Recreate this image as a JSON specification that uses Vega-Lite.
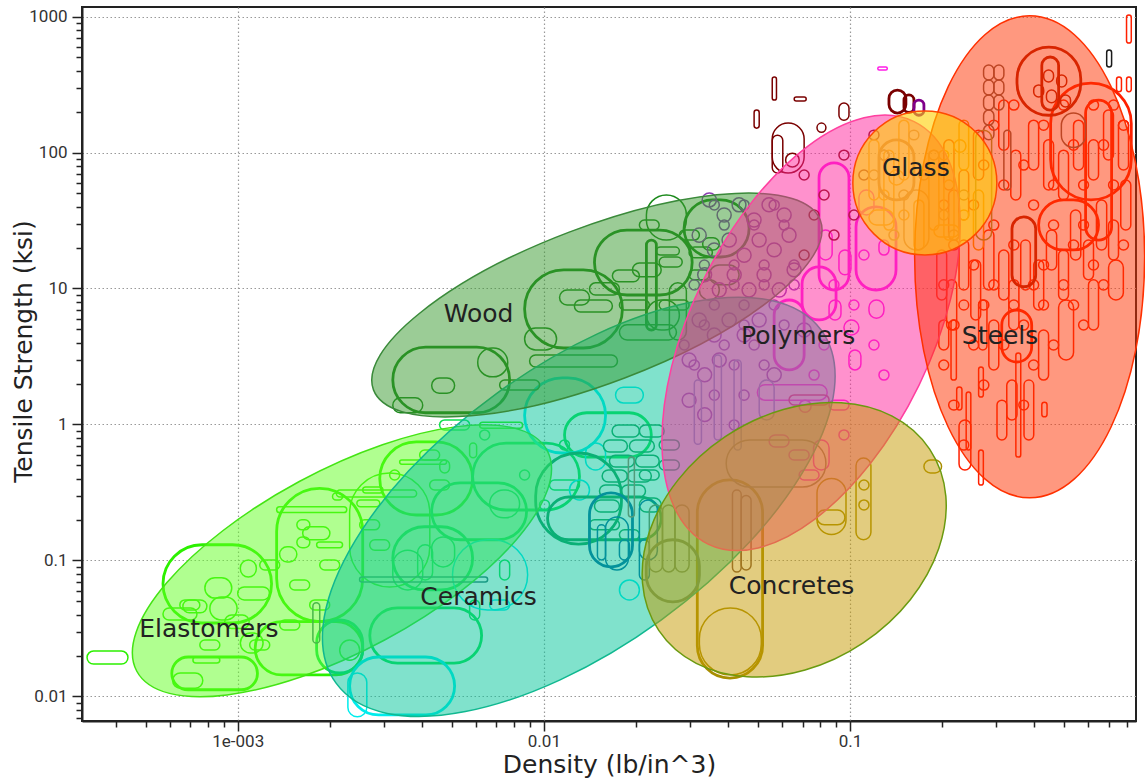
{
"$schema": "https://vega.github.io/schema/vega-lite/v6.json",
"width": 1054, "height": 714,
"autosize": {"type": "none"},
"padding": {"left": 82, "top": 7, "right": 9, "bottom": 63},
"background": "white",
"config": {
  "font": "DejaVu Sans",
  "view": {"stroke": "#222", "strokeWidth": 2},
  "axis": {"domainColor": "#222", "domainWidth": 2, "tickColor": "#222", "tickWidth": 1.5,
           "gridColor": "#999", "gridDash": [1.5, 2.5], "gridWidth": 1.2,
           "labelFont": "Roboto", "labelFontSize": 17, "labelColor": "#333",
           "titleFont": "DejaVu Sans", "titleFontSize": 25, "titleFontWeight": "normal", "titleColor": "#222",
           "labelOverlap": false, "labelFlush": false}
},
"datasets": {
"records": [
{"g":"Elastomers","lv":"grade","dlo":0.000322,"dhi":0.000438,"slo":0.0173,"shi":0.0216},
{"g":"Elastomers","lv":"class","dlo":0.00057,"dhi":0.00129,"slo":0.0347,"shi":0.1305},
{"g":"Elastomers","lv":"class","dlo":0.000609,"dhi":0.00116,"slo":0.0112,"shi":0.0195},
{"g":"Elastomers","lv":"class","dlo":0.00134,"dhi":0.00256,"slo":0.0355,"shi":0.339},
{"g":"Elastomers","lv":"class","dlo":0.00114,"dhi":0.00256,"slo":0.0144,"shi":0.0355},
{"g":"Elastomers","lv":"class","dlo":0.00291,"dhi":0.00585,"slo":0.216,"shi":0.744},
{"g":"Elastomers","lv":"grade","dlo":0.00232,"dhi":0.00424,"slo":0.0639,"shi":0.44},
{"g":"Elastomers","lv":"grade","dlo":0.00134,"dhi":0.00227,"slo":0.225,"shi":0.248},
{"g":"Elastomers","lv":"grade","dlo":0.00338,"dhi":0.00481,"slo":0.511,"shi":0.548},
{"g":"Elastomers","lv":"grade","dlo":0.00102,"dhi":0.00115,"slo":0.0756,"shi":0.101},
{"g":"Elastomers","lv":"grade","dlo":0.001,"dhi":0.00127,"slo":0.0513,"shi":0.0639},
{"g":"Elastomers","lv":"grade","dlo":0.00057,"dhi":0.000736,"slo":0.0365,"shi":0.0448},
{"g":"Elastomers","lv":"grade","dlo":0.000662,"dhi":0.000793,"slo":0.0412,"shi":0.0513},
{"g":"Elastomers","lv":"grade","dlo":0.000811,"dhi":0.000995,"slo":0.0365,"shi":0.0539},
{"g":"Elastomers","lv":"grade","dlo":0.00156,"dhi":0.00172,"slo":0.168,"shi":0.199},
{"g":"Elastomers","lv":"grade","dlo":0.00163,"dhi":0.002,"slo":0.142,"shi":0.177},
{"g":"Elastomers","lv":"grade","dlo":0.00156,"dhi":0.00172,"slo":0.124,"shi":0.149},
{"g":"Elastomers","lv":"grade","dlo":0.00181,"dhi":0.0022,"slo":0.124,"shi":0.137},
{"g":"Elastomers","lv":"grade","dlo":0.00137,"dhi":0.00156,"slo":0.0976,"shi":0.126},
{"g":"Elastomers","lv":"grade","dlo":0.00204,"dhi":0.0022,"slo":0.279,"shi":0.314},
{"g":"Elastomers","lv":"grade","dlo":0.00245,"dhi":0.00291,"slo":0.248,"shi":0.279},
{"g":"Elastomers","lv":"grade","dlo":0.00256,"dhi":0.00298,"slo":0.314,"shi":0.347},
{"g":"Elastomers","lv":"grade","dlo":0.000613,"dhi":0.000769,"slo":0.0115,"shi":0.0149},
{"g":"Elastomers","lv":"grade","dlo":0.000714,"dhi":0.000874,"slo":0.0176,"shi":0.0195},
{"g":"Elastomers","lv":"grade","dlo":0.00102,"dhi":0.00121,"slo":0.0209,"shi":0.0293},
{"g":"Elastomers","lv":"grade","dlo":0.0021,"dhi":0.00384,"slo":0.293,"shi":0.33},
{"g":"Elastomers","lv":"grade","dlo":0.00617,"dhi":0.00852,"slo":0.94,"shi":1.04},
{"g":"Elastomers","lv":"grade","dlo":0.00572,"dhi":0.00603,"slo":0.57,"shi":0.73},
{"g":"Elastomers","lv":"grade","dlo":0.00457,"dhi":0.00492,"slo":0.44,"shi":0.548},
{"g":"Elastomers","lv":"grade","dlo":0.000781,"dhi":0.000956,"slo":0.0529,"shi":0.0745},
{"g":"Elastomers","lv":"grade","dlo":0.000907,"dhi":0.00109,"slo":0.0316,"shi":0.0397},
{"g":"Elastomers","lv":"grade","dlo":0.000647,"dhi":0.000752,"slo":0.0433,"shi":0.0513},
{"g":"Elastomers","lv":"grade","dlo":0.000752,"dhi":0.000874,"slo":0.022,"shi":0.026},
{"g":"Elastomers","lv":"grade","dlo":0.001094,"dhi":0.001272,"slo":0.022,"shi":0.026},
{"g":"Elastomers","lv":"grade","dlo":0.00118,"dhi":0.001371,"slo":0.0851,"shi":0.101},
{"g":"Elastomers","lv":"grade","dlo":0.001478,"dhi":0.001718,"slo":0.0607,"shi":0.0719},
{"g":"Elastomers","lv":"grade","dlo":0.001853,"dhi":0.002153,"slo":0.0851,"shi":0.101},
{"g":"Elastomers","lv":"grade","dlo":0.001718,"dhi":0.001997,"slo":0.0433,"shi":0.0513},
{"g":"Elastomers","lv":"grade","dlo":0.002502,"dhi":0.002908,"slo":0.168,"shi":0.199},
{"g":"Elastomers","lv":"grade","dlo":0.002698,"dhi":0.003135,"slo":0.119,"shi":0.142},
{"g":"Elastomers","lv":"grade","dlo":0.003135,"dhi":0.00338,"slo":0.391,"shi":0.463},
{"g":"Elastomers","lv":"grade","dlo":0.003928,"dhi":0.004565,"slo":0.548,"shi":0.649},
{"g":"Elastomers","lv":"grade","dlo":0.004235,"dhi":0.004921,"slo":0.33,"shi":0.391},
{"g":"Elastomers","lv":"grade","dlo":0.002153,"dhi":0.002502,"slo":0.0185,"shi":0.026},
{"g":"Elastomers","lv":"grade","dlo":0.001371,"dhi":0.001594,"slo":0.0308,"shi":0.0365},
{"g":"Ceramics","lv":"class","dlo":0.0027,"dhi":0.00626,"slo":0.0176,"shi":0.0448},
{"g":"Ceramics","lv":"class","dlo":0.00321,"dhi":0.00585,"slo":0.0607,"shi":0.177},
{"g":"Ceramics","lv":"class","dlo":0.0043,"dhi":0.00878,"slo":0.142,"shi":0.372},
{"g":"Ceramics","lv":"class","dlo":0.00181,"dhi":0.00256,"slo":0.0149,"shi":0.0365},
{"g":"Ceramics","lv":"class","dlo":0.01168,"dhi":0.02243,"slo":0.576,"shi":1.22},
{"g":"Ceramics","lv":"class","dlo":0.00585,"dhi":0.01307,"slo":0.235,"shi":0.73},
{"g":"Ceramics","lv":"grade","dlo":0.0043,"dhi":0.00511,"slo":0.0897,"shi":0.149},
{"g":"Ceramics","lv":"grade","dlo":0.00387,"dhi":0.00433,"slo":0.0719,"shi":0.1305},
{"g":"Ceramics","lv":"grade","dlo":0.00665,"dhi":0.00833,"slo":0.206,"shi":0.33},
{"g":"Ceramics","lv":"grade","dlo":0.00321,"dhi":0.00402,"slo":0.0607,"shi":0.119},
{"g":"Ceramics","lv":"grade","dlo":0.00572,"dhi":0.00617,"slo":0.0365,"shi":0.0513},
{"g":"Ceramics","lv":"grade","dlo":0.00717,"dhi":0.00773,"slo":0.0719,"shi":0.101},
{"g":"Ceramics","lv":"grade","dlo":0.00833,"dhi":0.00898,"slo":0.391,"shi":0.463},
{"g":"Ceramics","lv":"grade","dlo":0.00968,"dhi":0.01043,"slo":0.235,"shi":0.279},
{"g":"Ceramics","lv":"grade","dlo":0.01125,"dhi":0.01212,"slo":0.649,"shi":0.77},
{"g":"Ceramics","lv":"grade","dlo":0.00617,"dhi":0.00665,"slo":0.77,"shi":0.912},
{"g":"Ceramics","lv":"grade","dlo":0.004565,"dhi":0.00572,"slo":0.912,"shi":1.08},
{"g":"Ceramics","lv":"grade","dlo":0.01043,"dhi":0.01307,"slo":0.33,"shi":0.391},
{"g":"Ceramics cyan","lv":"class","dlo":0.00232,"dhi":0.00511,"slo":0.00731,"shi":0.0195},
{"g":"Ceramics cyan","lv":"grade","dlo":0.00229,"dhi":0.00264,"slo":0.00708,"shi":0.0149},
{"g":"Ceramics cyan","lv":"class","dlo":0.00865,"dhi":0.0159,"slo":0.617,"shi":2.2},
{"g":"Ceramics cyan","lv":"grade","dlo":0.01368,"dhi":0.0159,"slo":0.463,"shi":0.73},
{"g":"Ceramics cyan","lv":"grade","dlo":0.01714,"dhi":0.02113,"slo":1.44,"shi":1.88},
{"g":"Ceramics cyan","lv":"grade","dlo":0.00503,"dhi":0.00885,"slo":0.0433,"shi":0.142},
{"g":"Ceramics cyan","lv":"grade","dlo":0.01212,"dhi":0.01409,"slo":0.279,"shi":0.391},
{"g":"Ceramics cyan","lv":"grade","dlo":0.00665,"dhi":0.00773,"slo":0.0433,"shi":0.0513},
{"g":"Ceramics cyan","lv":"grade","dlo":0.01765,"dhi":0.02051,"slo":0.0513,"shi":0.0719},
{"g":"Ceramics dark","lv":"class","dlo":0.0094,"dhi":0.01792,"slo":0.132,"shi":0.617},
{"g":"Ceramics dark","lv":"class","dlo":0.01028,"dhi":0.02416,"slo":0.142,"shi":0.293},
{"g":"Ceramics dark","lv":"grade","dlo":0.01565,"dhi":0.01874,"slo":0.627,"shi":0.77},
{"g":"Ceramics dark","lv":"grade","dlo":0.01903,"dhi":0.02295,"slo":0.627,"shi":0.77},
{"g":"Ceramics dark","lv":"grade","dlo":0.01637,"dhi":0.01975,"slo":0.487,"shi":0.595},
{"g":"Ceramics dark","lv":"grade","dlo":0.01992,"dhi":0.0238,"slo":0.487,"shi":0.595},
{"g":"Ceramics dark","lv":"grade","dlo":0.0155,"dhi":0.01874,"slo":0.377,"shi":0.463},
{"g":"Ceramics dark","lv":"grade","dlo":0.01874,"dhi":0.02244,"slo":0.377,"shi":0.463},
{"g":"Ceramics dark","lv":"grade","dlo":0.01519,"dhi":0.01792,"slo":0.293,"shi":0.359},
{"g":"Ceramics dark","lv":"grade","dlo":0.01792,"dhi":0.02147,"slo":0.293,"shi":0.359},
{"g":"Ceramics dark","lv":"grade","dlo":0.0167,"dhi":0.02051,"slo":0.81,"shi":0.99},
{"g":"Ceramics dark","lv":"grade","dlo":0.02051,"dhi":0.0247,"slo":0.81,"shi":0.99},
{"g":"Ceramics dark","lv":"grade","dlo":0.01463,"dhi":0.01765,"slo":0.227,"shi":0.279},
{"g":"Ceramics dark","lv":"grade","dlo":0.02051,"dhi":0.02416,"slo":0.227,"shi":0.288},
{"g":"Ceramics dark","lv":"grade","dlo":0.02051,"dhi":0.0238,"slo":0.391,"shi":0.463},
{"g":"Ceramics dark","lv":"grade","dlo":0.0238,"dhi":0.0277,"slo":0.463,"shi":0.548},
{"g":"Ceramics dark","lv":"grade","dlo":0.0238,"dhi":0.0277,"slo":0.649,"shi":0.77},
{"g":"Ceramics dark","lv":"grade","dlo":0.01409,"dhi":0.01765,"slo":0.168,"shi":0.199},
{"g":"Ceramics dark","lv":"grade","dlo":0.01765,"dhi":0.02051,"slo":0.142,"shi":0.168},
{"g":"Ceramics blue","lv":"class","dlo":0.01409,"dhi":0.01947,"slo":0.0897,"shi":0.314},
{"g":"Ceramics blue","lv":"grade","dlo":0.0159,"dhi":0.01888,"slo":0.0851,"shi":0.209},
{"g":"Ceramics blue","lv":"grade","dlo":0.02051,"dhi":0.02347,"slo":0.101,"shi":0.279},
{"g":"Ceramics blue","lv":"grade","dlo":0.01496,"dhi":0.0159,"slo":0.101,"shi":0.183},
{"g":"Ceramics blue","lv":"grade","dlo":0.01765,"dhi":0.01903,"slo":0.101,"shi":0.142},
{"g":"Ceramics blue","lv":"grade","dlo":0.02051,"dhi":0.0221,"slo":0.0719,"shi":0.142},
{"g":"Ceramics grey","lv":"grade","dlo":0.0025,"dhi":0.00655,"slo":0.0695,"shi":0.0756},
{"g":"Ceramics grey","lv":"grade","dlo":0.00176,"dhi":0.001853,"slo":0.0247,"shi":0.0488},
{"g":"Ceramics brown","lv":"grade","dlo":0.01888,"dhi":0.01975,"slo":0.209,"shi":0.576},
{"g":"Wood","lv":"class","dlo":0.00321,"dhi":0.00773,"slo":1.22,"shi":3.71},
{"g":"Wood","lv":"grade","dlo":0.00608,"dhi":0.00762,"slo":2.24,"shi":3.65},
{"g":"Wood","lv":"grade","dlo":0.0043,"dhi":0.00511,"slo":1.7,"shi":2.2},
{"g":"Wood","lv":"grade","dlo":0.00321,"dhi":0.00402,"slo":1.22,"shi":1.57},
{"g":"Wood","lv":"class","dlo":0.00865,"dhi":0.01805,"slo":3.65,"shi":13.7},
{"g":"Wood","lv":"grade","dlo":0.00865,"dhi":0.011,"slo":3.53,"shi":5.12},
{"g":"Wood","lv":"grade","dlo":0.00898,"dhi":0.01739,"slo":2.65,"shi":3.24},
{"g":"Wood","lv":"class","dlo":0.01463,"dhi":0.0305,"slo":8.96,"shi":26.9},
{"g":"Wood","lv":"grade","dlo":0.02162,"dhi":0.0292,"slo":22.7,"shi":48.7},
{"g":"Wood","lv":"class","dlo":0.0287,"dhi":0.0468,"slo":17.05,"shi":44.8},
{"g":"Wood","lv":"grade","dlo":0.01125,"dhi":0.01409,"slo":7.56,"shi":9.75},
{"g":"Wood","lv":"grade","dlo":0.01258,"dhi":0.01674,"slo":6.72,"shi":8.23},
{"g":"Wood","lv":"grade","dlo":0.01409,"dhi":0.01765,"slo":8.96,"shi":11.0},
{"g":"Wood","lv":"grade","dlo":0.01674,"dhi":0.02051,"slo":11.2,"shi":13.7},
{"g":"Wood","lv":"grade","dlo":0.01947,"dhi":0.02416,"slo":12.2,"shi":15.4},
{"g":"Wood","lv":"grade","dlo":0.0233,"dhi":0.0277,"slo":17.6,"shi":20.2},
{"g":"Wood","lv":"grade","dlo":0.0238,"dhi":0.0283,"slo":14.4,"shi":17.05},
{"g":"Wood","lv":"grade","dlo":0.0298,"dhi":0.0355,"slo":16.8,"shi":20.2},
{"g":"Wood","lv":"grade","dlo":0.033,"dhi":0.0374,"slo":19.2,"shi":23.6},
{"g":"Wood","lv":"grade","dlo":0.0257,"dhi":0.0292,"slo":4.18,"shi":11.0},
{"g":"Wood","lv":"grade","dlo":0.01765,"dhi":0.0271,"slo":4.18,"shi":5.42},
{"g":"Wood","lv":"grade","dlo":0.02162,"dhi":0.0277,"slo":4.95,"shi":8.23},
{"g":"Wood","lv":"class","dlo":0.02162,"dhi":0.0233,"slo":4.95,"shi":22.7},
{"g":"Wood","lv":"grade","dlo":0.0347,"dhi":0.0434,"slo":10.66,"shi":14.9},
{"g":"Wood","lv":"grade","dlo":0.02051,"dhi":0.0238,"slo":26.9,"shi":31.9},
{"g":"Wood","lv":"grade","dlo":0.0298,"dhi":0.0347,"slo":11.6,"shi":13.7},
{"g":"Wood","lv":"grade","dlo":0.0277,"dhi":0.0322,"slo":22.7,"shi":26.9},
{"g":"Wood","lv":"grade","dlo":0.01765,"dhi":0.0221,"slo":6.95,"shi":8.23},
{"g":"Wood","lv":"grade","dlo":0.0238,"dhi":0.0298,"slo":6.95,"shi":8.23},
{"g":"Wood","lv":"grade","dlo":0.0322,"dhi":0.0374,"slo":8.23,"shi":11.6},
{"g":"Wood","lv":"grade","dlo":0.00717,"dhi":0.00968,"slo":1.79,"shi":2.12},
{"g":"Polymers","lv":"grade","dlo":0.0329,"dhi":0.0366,"slo":39.8,"shi":50.4},
{"g":"Polymers","lv":"grade","dlo":0.0368,"dhi":0.0409,"slo":30.8,"shi":39.1},
{"g":"Polymers","lv":"grade","dlo":0.0412,"dhi":0.0457,"slo":36.6,"shi":46.4},
{"g":"Polymers","lv":"grade","dlo":0.0461,"dhi":0.0512,"slo":28.3,"shi":35.9},
{"g":"Polymers","lv":"grade","dlo":0.0516,"dhi":0.0573,"slo":36.6,"shi":46.4},
{"g":"Polymers","lv":"grade","dlo":0.0578,"dhi":0.0642,"slo":30.8,"shi":39.1},
{"g":"Polymers","lv":"grade","dlo":0.0305,"dhi":0.0339,"slo":21.9,"shi":27.8},
{"g":"Polymers","lv":"grade","dlo":0.0342,"dhi":0.0379,"slo":17.1,"shi":21.6},
{"g":"Polymers","lv":"grade","dlo":0.0382,"dhi":0.0425,"slo":20.2,"shi":25.6},
{"g":"Polymers","lv":"grade","dlo":0.0428,"dhi":0.0475,"slo":15.6,"shi":19.8},
{"g":"Polymers","lv":"grade","dlo":0.0479,"dhi":0.0532,"slo":20.2,"shi":25.6},
{"g":"Polymers","lv":"grade","dlo":0.0536,"dhi":0.0596,"slo":17.1,"shi":21.6},
{"g":"Polymers","lv":"grade","dlo":0.06,"dhi":0.0666,"slo":21.9,"shi":27.8},
{"g":"Polymers","lv":"grade","dlo":0.0318,"dhi":0.0353,"slo":11.2,"shi":14.2},
{"g":"Polymers","lv":"grade","dlo":0.0355,"dhi":0.0394,"slo":8.66,"shi":11.0},
{"g":"Polymers","lv":"grade","dlo":0.0397,"dhi":0.0441,"slo":11.2,"shi":14.2},
{"g":"Polymers","lv":"grade","dlo":0.0444,"dhi":0.0493,"slo":8.66,"shi":11.0},
{"g":"Polymers","lv":"grade","dlo":0.0497,"dhi":0.0552,"slo":11.2,"shi":14.2},
{"g":"Polymers","lv":"grade","dlo":0.0557,"dhi":0.0619,"slo":8.66,"shi":11.0},
{"g":"Polymers","lv":"grade","dlo":0.0623,"dhi":0.0692,"slo":12.2,"shi":15.4},
{"g":"Polymers","lv":"grade","dlo":0.0305,"dhi":0.0339,"slo":5.21,"shi":6.61},
{"g":"Polymers","lv":"grade","dlo":0.0342,"dhi":0.0379,"slo":4.04,"shi":5.12},
{"g":"Polymers","lv":"grade","dlo":0.0382,"dhi":0.0425,"slo":5.21,"shi":6.61},
{"g":"Polymers","lv":"grade","dlo":0.0428,"dhi":0.0475,"slo":4.04,"shi":5.12},
{"g":"Polymers","lv":"grade","dlo":0.0479,"dhi":0.0532,"slo":5.21,"shi":6.61},
{"g":"Polymers","lv":"grade","dlo":0.0283,"dhi":0.0314,"slo":2.65,"shi":3.36},
{"g":"Polymers","lv":"grade","dlo":0.0318,"dhi":0.0353,"slo":2.06,"shi":2.61},
{"g":"Polymers","lv":"grade","dlo":0.0355,"dhi":0.0394,"slo":2.65,"shi":3.36},
{"g":"Polymers","lv":"grade","dlo":0.0283,"dhi":0.0314,"slo":1.34,"shi":1.7},
{"g":"Polymers","lv":"grade","dlo":0.0318,"dhi":0.0353,"slo":1.05,"shi":1.33},
{"g":"Polymers","lv":"grade","dlo":0.0536,"dhi":0.0596,"slo":2.06,"shi":2.61},
{"g":"Polymers","lv":"grade","dlo":0.0672,"dhi":0.0746,"slo":4.4,"shi":5.57},
{"g":"Polymers","lv":"grade","dlo":0.0347,"dhi":0.0374,"slo":37.8,"shi":44.8},
{"g":"Polymers","lv":"grade","dlo":0.0434,"dhi":0.0468,"slo":37.8,"shi":44.8},
{"g":"Polymers","lv":"grade","dlo":0.0544,"dhi":0.0587,"slo":37.8,"shi":44.8},
{"g":"Polymers","lv":"grade","dlo":0.0322,"dhi":0.0347,"slo":13.7,"shi":16.2},
{"g":"Polymers","lv":"grade","dlo":0.0403,"dhi":0.0434,"slo":13.7,"shi":16.2},
{"g":"Polymers","lv":"grade","dlo":0.0505,"dhi":0.0544,"slo":13.7,"shi":16.2},
{"g":"Polymers","lv":"grade","dlo":0.0632,"dhi":0.0682,"slo":13.7,"shi":16.2},
{"g":"Polymers","lv":"grade","dlo":0.0347,"dhi":0.0374,"slo":6.95,"shi":8.23},
{"g":"Polymers","lv":"grade","dlo":0.0434,"dhi":0.0468,"slo":6.95,"shi":8.23},
{"g":"Polymers","lv":"grade","dlo":0.0544,"dhi":0.0587,"slo":6.95,"shi":8.23},
{"g":"Polymers","lv":"grade","dlo":0.0277,"dhi":0.0298,"slo":3.53,"shi":4.18},
{"g":"Polymers","lv":"grade","dlo":0.0374,"dhi":0.0403,"slo":3.53,"shi":4.18},
{"g":"Polymers","lv":"grade","dlo":0.0468,"dhi":0.0505,"slo":3.53,"shi":4.18},
{"g":"Polymers","lv":"grade","dlo":0.0347,"dhi":0.0374,"slo":1.51,"shi":1.79},
{"g":"Polymers","lv":"grade","dlo":0.0434,"dhi":0.0468,"slo":1.51,"shi":1.79},
{"g":"Polymers","lv":"grade","dlo":0.0403,"dhi":0.0434,"slo":0.912,"shi":1.08},
{"g":"Polymers","lv":"grade","dlo":0.0374,"dhi":0.0403,"slo":26.9,"shi":31.9},
{"g":"Polymers","lv":"grade","dlo":0.0468,"dhi":0.0505,"slo":26.9,"shi":31.9},
{"g":"Polymers","lv":"grade","dlo":0.0587,"dhi":0.0632,"slo":26.9,"shi":31.9},
{"g":"Polymers","lv":"grade","dlo":0.0298,"dhi":0.0322,"slo":9.75,"shi":11.6},
{"g":"Polymers","lv":"grade","dlo":0.0403,"dhi":0.0434,"slo":9.75,"shi":11.6},
{"g":"Polymers","lv":"grade","dlo":0.0505,"dhi":0.0544,"slo":9.75,"shi":11.6},
{"g":"Polymers","lv":"grade","dlo":0.0632,"dhi":0.0682,"slo":9.75,"shi":11.6},
{"g":"Polymers","lv":"grade","dlo":0.0322,"dhi":0.0347,"slo":4.95,"shi":5.87},
{"g":"Polymers","lv":"grade","dlo":0.0434,"dhi":0.0468,"slo":4.95,"shi":5.87},
{"g":"Polymers","lv":"grade","dlo":0.0587,"dhi":0.0632,"slo":4.95,"shi":5.87},
{"g":"Polymers","lv":"grade","dlo":0.0298,"dhi":0.0322,"slo":2.52,"shi":2.98},
{"g":"Polymers","lv":"grade","dlo":0.0403,"dhi":0.0434,"slo":2.52,"shi":2.98},
{"g":"Polymers","lv":"grade","dlo":0.0505,"dhi":0.0544,"slo":2.52,"shi":2.98},
{"g":"Polymers magenta","lv":"class","dlo":0.0792,"dhi":0.0992,"slo":9.75,"shi":83.8},
{"g":"Polymers magenta","lv":"class","dlo":0.1046,"dhi":0.1413,"slo":9.75,"shi":39.8},
{"g":"Polymers magenta","lv":"class","dlo":0.0697,"dhi":0.09,"slo":5.87,"shi":14.4},
{"g":"Polymers magenta","lv":"class","dlo":0.0565,"dhi":0.0708,"slo":2.52,"shi":8.23},
{"g":"Polymers magenta","lv":"grade","dlo":0.0792,"dhi":0.0874,"slo":16.2,"shi":26.9},
{"g":"Polymers magenta","lv":"grade","dlo":0.092,"dhi":0.1007,"slo":12.6,"shi":19.2},
{"g":"Polymers magenta","lv":"grade","dlo":0.1069,"dhi":0.1197,"slo":34.7,"shi":53},
{"g":"Polymers magenta","lv":"grade","dlo":0.0854,"dhi":0.0934,"slo":5.87,"shi":8.23},
{"g":"Polymers magenta","lv":"grade","dlo":0.0955,"dhi":0.1069,"slo":4.55,"shi":5.87},
{"g":"Polymers magenta","lv":"grade","dlo":0.1153,"dhi":0.129,"slo":6.04,"shi":8.23},
{"g":"Polymers magenta","lv":"grade","dlo":0.0992,"dhi":0.1085,"slo":2.52,"shi":3.53},
{"g":"Polymers magenta","lv":"grade","dlo":0.1243,"dhi":0.134,"slo":17.6,"shi":22.7},
{"g":"Polymers magenta","lv":"grade","dlo":0.0682,"dhi":0.0746,"slo":1.23,"shi":1.51},
{"g":"Polymers magenta","lv":"grade","dlo":0.0544,"dhi":0.0632,"slo":0.683,"shi":0.837},
{"g":"Polymers magenta","lv":"grade","dlo":0.0682,"dhi":0.0792,"slo":0.391,"shi":0.463},
{"g":"Polymers magenta","lv":"grade","dlo":0.1232,"dhi":0.1323,"slo":405,"shi":425},
{"g":"Polymers magenta","lv":"grade","dlo":0.076,"dhi":0.0854,"slo":0.463,"shi":0.77},
{"g":"Polymers magenta","lv":"grade","dlo":0.0498,"dhi":0.0842,"slo":1.51,"shi":1.96},
{"g":"Polymers magenta","lv":"grade","dlo":0.0854,"dhi":0.092,"slo":9.75,"shi":11.6},
{"g":"Polymers magenta","lv":"grade","dlo":0.0992,"dhi":0.1069,"slo":6.95,"shi":8.23},
{"g":"Polymers magenta","lv":"grade","dlo":0.1069,"dhi":0.1153,"slo":16.2,"shi":19.2},
{"g":"Polymers magenta","lv":"grade","dlo":0.0735,"dhi":0.0792,"slo":2.12,"shi":2.52},
{"g":"Polymers magenta","lv":"grade","dlo":0.0854,"dhi":0.0992,"slo":1.28,"shi":1.51},
{"g":"Polymers magenta","lv":"grade","dlo":0.092,"dhi":0.0992,"slo":0.77,"shi":0.912},
{"g":"Polymers magenta","lv":"grade","dlo":0.0632,"dhi":0.0735,"slo":0.548,"shi":0.649},
{"g":"Polymers magenta","lv":"grade","dlo":0.1153,"dhi":0.1243,"slo":3.53,"shi":4.18},
{"g":"Polymers magenta","lv":"grade","dlo":0.1243,"dhi":0.134,"slo":2.12,"shi":2.52},
{"g":"Polymers magenta","lv":"grade","dlo":0.0792,"dhi":0.0854,"slo":3.53,"shi":4.18},
{"g":"Polymers maroon","lv":"grade","dlo":0.0557,"dhi":0.0575,"slo":243,"shi":359},
{"g":"Polymers maroon","lv":"grade","dlo":0.0657,"dhi":0.0719,"slo":239,"shi":256},
{"g":"Polymers maroon","lv":"grade","dlo":0.0486,"dhi":0.0505,"slo":151,"shi":205},
{"g":"Polymers maroon","lv":"grade","dlo":0.0557,"dhi":0.0708,"slo":70.6,"shi":164.5},
{"g":"Polymers maroon","lv":"grade","dlo":0.0557,"dhi":0.0603,"slo":70.6,"shi":134},
{"g":"Polymers maroon","lv":"grade","dlo":0.078,"dhi":0.0834,"slo":141,"shi":164.5},
{"g":"Polymers maroon","lv":"class","dlo":0.134,"dhi":0.1522,"slo":195,"shi":288},
{"g":"Polymers maroon","lv":"grade","dlo":0.0616,"dhi":0.0682,"slo":78.2,"shi":98.9},
{"g":"Polymers maroon","lv":"grade","dlo":0.092,"dhi":0.0992,"slo":173,"shi":231},
{"g":"Polymers maroon","lv":"class","dlo":0.15,"dhi":0.1617,"slo":197,"shi":265},
{"g":"Polymers maroon","lv":"grade","dlo":0.0682,"dhi":0.0735,"slo":62.8,"shi":74.3},
{"g":"Polymers maroon","lv":"grade","dlo":0.0792,"dhi":0.0854,"slo":44.8,"shi":53},
{"g":"Polymers maroon","lv":"grade","dlo":0.092,"dhi":0.0992,"slo":88.1,"shi":104},
{"g":"Polymers maroon","lv":"grade","dlo":0.1069,"dhi":0.1153,"slo":62.8,"shi":74.3},
{"g":"Polymers maroon","lv":"grade","dlo":0.0735,"dhi":0.0792,"slo":31.9,"shi":37.8},
{"g":"Polymers maroon","lv":"grade","dlo":0.0992,"dhi":0.1069,"slo":31.9,"shi":37.8},
{"g":"Polymers maroon","lv":"grade","dlo":0.1243,"dhi":0.134,"slo":88.1,"shi":104},
{"g":"Polymers maroon","lv":"grade","dlo":0.0854,"dhi":0.092,"slo":22.7,"shi":26.9},
{"g":"Polymers maroon","lv":"grade","dlo":0.0682,"dhi":0.0735,"slo":16.2,"shi":19.2},
{"g":"Polymers maroon","lv":"grade","dlo":0.1153,"dhi":0.1243,"slo":124,"shi":146},
{"g":"Polymers violet","lv":"class","dlo":0.1617,"dhi":0.1743,"slo":188,"shi":243},
{"g":"Polymers blue","lv":"grade","dlo":0.036,"dhi":0.038,"slo":0.77,"shi":3.24},
{"g":"Polymers blue","lv":"grade","dlo":0.0418,"dhi":0.0441,"slo":0.649,"shi":2.98},
{"g":"Polymers blue","lv":"grade","dlo":0.031,"dhi":0.0327,"slo":0.716,"shi":2.12},
{"g":"Polymers blue","lv":"grade","dlo":0.0505,"dhi":0.0565,"slo":1.08,"shi":2.12},
{"g":"Polymers crimson","lv":"grade","dlo":0.0632,"dhi":0.0854,"slo":1.39,"shi":1.65},
{"g":"Concretes","lv":"grade","dlo":0.0322,"dhi":0.0513,"slo":0.0144,"shi":0.0448},
{"g":"Concretes","lv":"class","dlo":0.0317,"dhi":0.0518,"slo":0.01366,"shi":0.391},
{"g":"Concretes","lv":"grade","dlo":0.078,"dhi":0.097,"slo":0.155,"shi":0.401},
{"g":"Concretes","lv":"grade","dlo":0.1046,"dhi":0.117,"slo":0.142,"shi":0.566},
{"g":"Concretes","lv":"grade","dlo":0.1743,"dhi":0.199,"slo":0.44,"shi":0.548},
{"g":"Concretes","lv":"grade","dlo":0.078,"dhi":0.0962,"slo":0.183,"shi":0.235},
{"g":"Concretes","lv":"grade","dlo":0.1069,"dhi":0.1153,"slo":0.33,"shi":0.391},
{"g":"Concretes","lv":"grade","dlo":0.1069,"dhi":0.1153,"slo":0.235,"shi":0.279},
{"g":"Concretes grey","lv":"grade","dlo":0.0221,"dhi":0.0244,"slo":0.0823,"shi":0.256},
{"g":"Concretes grey","lv":"grade","dlo":0.0244,"dhi":0.0268,"slo":0.0823,"shi":0.256},
{"g":"Concretes grey","lv":"grade","dlo":0.0268,"dhi":0.0298,"slo":0.0823,"shi":0.256},
{"g":"Concretes grey","lv":"class","dlo":0.0216,"dhi":0.0322,"slo":0.0496,"shi":0.142},
{"g":"Concretes grey","lv":"grade","dlo":0.0394,"dhi":0.0834,"slo":0.347,"shi":0.77},
{"g":"Concretes brown","lv":"grade","dlo":0.0413,"dhi":0.0441,"slo":0.0823,"shi":0.33},
{"g":"Concretes brown","lv":"grade","dlo":0.0441,"dhi":0.0475,"slo":0.0851,"shi":0.3},
{"g":"Steels","lv":"class","dlo":0.452,"dhi":0.829,"slo":44.8,"shi":324},
{"g":"Steels","lv":"class","dlo":0.313,"dhi":0.392,"slo":2.88,"shi":6.95},
{"g":"Steels","lv":"class","dlo":0.588,"dhi":0.715,"slo":22.7,"shi":243},
{"g":"Steels","lv":"class","dlo":0.413,"dhi":0.648,"slo":19.2,"shi":44.8},
{"g":"Steels","lv":"grade","dlo":0.348,"dhi":0.361,"slo":0.576,"shi":3.35},
{"g":"Steels","lv":"grade","dlo":0.2137,"dhi":0.2225,"slo":2.12,"shi":5.87},
{"g":"Steels","lv":"grade","dlo":0.263,"dhi":0.2725,"slo":0.359,"shi":0.649},
{"g":"Steels","lv":"grade","dlo":0.223,"dhi":0.232,"slo":1.28,"shi":1.89},
{"g":"Steels","lv":"grade","dlo":0.2395,"dhi":0.248,"slo":0.649,"shi":1.73},
{"g":"Steels","lv":"grade","dlo":0.263,"dhi":0.2725,"slo":1.59,"shi":2.65},
{"g":"Steels","lv":"grade","dlo":0.423,"dhi":0.44,"slo":1.14,"shi":1.46},
{"g":"Steels","lv":"grade","dlo":0.8,"dhi":0.829,"slo":638,"shi":1027},
{"g":"Steels","lv":"grade","dlo":0.742,"dhi":0.77,"slo":280,"shi":359},
{"g":"Steels","lv":"grade","dlo":0.8,"dhi":0.829,"slo":280,"shi":359},
{"g":"Steels","lv":"grade","dlo":0.192,"dhi":0.2068,"slo":8.23,"shi":19.2},
{"g":"Steels","lv":"grade","dlo":0.2068,"dhi":0.223,"slo":4.95,"shi":11.6},
{"g":"Steels","lv":"grade","dlo":0.227,"dhi":0.244,"slo":9.75,"shi":22.7},
{"g":"Steels","lv":"grade","dlo":0.248,"dhi":0.267,"slo":5.87,"shi":16.2},
{"g":"Steels","lv":"grade","dlo":0.273,"dhi":0.295,"slo":9.75,"shi":26.9},
{"g":"Steels","lv":"grade","dlo":0.195,"dhi":0.21,"slo":3.53,"shi":5.87},
{"g":"Steels","lv":"grade","dlo":0.263,"dhi":0.28,"slo":3.53,"shi":8.23},
{"g":"Steels","lv":"grade","dlo":0.284,"dhi":0.306,"slo":2.52,"shi":5.87},
{"g":"Steels","lv":"grade","dlo":0.306,"dhi":0.33,"slo":8.23,"shi":19.2},
{"g":"Steels","lv":"grade","dlo":0.33,"dhi":0.356,"slo":4.95,"shi":11.6},
{"g":"Steels","lv":"grade","dlo":0.361,"dhi":0.388,"slo":9.75,"shi":22.7},
{"g":"Steels","lv":"grade","dlo":0.398,"dhi":0.429,"slo":6.95,"shi":16.2},
{"g":"Steels","lv":"grade","dlo":0.438,"dhi":0.473,"slo":13.7,"shi":26.9},
{"g":"Steels","lv":"grade","dlo":0.48,"dhi":0.517,"slo":8.23,"shi":19.2},
{"g":"Steels","lv":"grade","dlo":0.525,"dhi":0.567,"slo":16.2,"shi":37.8},
{"g":"Steels","lv":"grade","dlo":0.579,"dhi":0.624,"slo":11.6,"shi":22.7},
{"g":"Steels","lv":"grade","dlo":0.638,"dhi":0.689,"slo":19.2,"shi":44.8},
{"g":"Steels","lv":"grade","dlo":0.699,"dhi":0.753,"slo":16.2,"shi":31.9},
{"g":"Steels","lv":"grade","dlo":0.766,"dhi":0.826,"slo":26.9,"shi":62.8},
{"g":"Steels","lv":"grade","dlo":0.383,"dhi":0.413,"slo":74.3,"shi":173},
{"g":"Steels","lv":"grade","dlo":0.429,"dhi":0.462,"slo":53,"shi":124},
{"g":"Steels","lv":"grade","dlo":0.48,"dhi":0.517,"slo":44.8,"shi":104},
{"g":"Steels","lv":"grade","dlo":0.537,"dhi":0.579,"slo":74.3,"shi":173},
{"g":"Steels","lv":"grade","dlo":0.601,"dhi":0.648,"slo":62.8,"shi":124},
{"g":"Steels","lv":"grade","dlo":0.673,"dhi":0.725,"slo":88.1,"shi":205},
{"g":"Steels","lv":"grade","dlo":0.753,"dhi":0.812,"slo":74.3,"shi":173},
{"g":"Steels","lv":"grade","dlo":0.306,"dhi":0.33,"slo":104,"shi":243},
{"g":"Steels","lv":"grade","dlo":0.335,"dhi":0.361,"slo":44.8,"shi":104},
{"g":"Steels","lv":"grade","dlo":0.253,"dhi":0.273,"slo":62.8,"shi":146},
{"g":"Steels","lv":"grade","dlo":0.227,"dhi":0.244,"slo":31.9,"shi":74.3},
{"g":"Steels","lv":"grade","dlo":0.2025,"dhi":0.2185,"slo":53,"shi":124},
{"g":"Steels","lv":"grade","dlo":0.37,"dhi":0.398,"slo":0.77,"shi":2.12},
{"g":"Steels","lv":"grade","dlo":0.325,"dhi":0.351,"slo":1.08,"shi":2.12},
{"g":"Steels","lv":"grade","dlo":0.413,"dhi":0.445,"slo":2.12,"shi":4.95},
{"g":"Steels","lv":"grade","dlo":0.227,"dhi":0.248,"slo":0.463,"shi":1.08},
{"g":"Steels","lv":"grade","dlo":0.302,"dhi":0.325,"slo":0.77,"shi":1.51},
{"g":"Steels","lv":"grade","dlo":0.21,"dhi":0.227,"slo":22.7,"shi":53},
{"g":"Steels","lv":"grade","dlo":0.48,"dhi":0.537,"slo":2.98,"shi":8.23},
{"g":"Steels","lv":"grade","dlo":0.601,"dhi":0.648,"slo":4.95,"shi":11.6},
{"g":"Steels","lv":"grade","dlo":0.699,"dhi":0.781,"slo":8.23,"shi":16.2},
{"g":"Steels","lv":"grade","dlo":0.195,"dhi":0.21,"slo":37.8,"shi":44.8},
{"g":"Steels","lv":"grade","dlo":0.195,"dhi":0.21,"slo":9.75,"shi":11.6},
{"g":"Steels","lv":"grade","dlo":0.195,"dhi":0.21,"slo":2.52,"shi":2.98},
{"g":"Steels","lv":"grade","dlo":0.21,"dhi":0.227,"slo":19.2,"shi":22.7},
{"g":"Steels","lv":"grade","dlo":0.21,"dhi":0.227,"slo":4.95,"shi":5.87},
{"g":"Steels","lv":"grade","dlo":0.21,"dhi":0.227,"slo":1.28,"shi":1.51},
{"g":"Steels","lv":"grade","dlo":0.227,"dhi":0.244,"slo":6.95,"shi":8.23},
{"g":"Steels","lv":"grade","dlo":0.227,"dhi":0.244,"slo":0.649,"shi":0.77},
{"g":"Steels","lv":"grade","dlo":0.244,"dhi":0.263,"slo":37.8,"shi":44.8},
{"g":"Steels","lv":"grade","dlo":0.244,"dhi":0.263,"slo":13.7,"shi":16.2},
{"g":"Steels","lv":"grade","dlo":0.244,"dhi":0.263,"slo":3.53,"shi":4.18},
{"g":"Steels","lv":"grade","dlo":0.263,"dhi":0.284,"slo":74.3,"shi":88.1},
{"g":"Steels","lv":"grade","dlo":0.263,"dhi":0.284,"slo":6.95,"shi":8.23},
{"g":"Steels","lv":"grade","dlo":0.263,"dhi":0.284,"slo":1.79,"shi":2.12},
{"g":"Steels","lv":"grade","dlo":0.284,"dhi":0.306,"slo":146,"shi":173},
{"g":"Steels","lv":"grade","dlo":0.284,"dhi":0.306,"slo":26.9,"shi":31.9},
{"g":"Steels","lv":"grade","dlo":0.284,"dhi":0.306,"slo":9.75,"shi":11.6},
{"g":"Steels","lv":"grade","dlo":0.306,"dhi":0.33,"slo":53,"shi":62.8},
{"g":"Steels","lv":"grade","dlo":0.306,"dhi":0.33,"slo":3.53,"shi":4.18},
{"g":"Steels","lv":"grade","dlo":0.33,"dhi":0.356,"slo":205,"shi":243},
{"g":"Steels","lv":"grade","dlo":0.33,"dhi":0.356,"slo":19.2,"shi":22.7},
{"g":"Steels","lv":"grade","dlo":0.33,"dhi":0.356,"slo":6.95,"shi":8.23},
{"g":"Steels","lv":"grade","dlo":0.356,"dhi":0.383,"slo":74.3,"shi":88.1},
{"g":"Steels","lv":"grade","dlo":0.356,"dhi":0.383,"slo":4.95,"shi":5.87},
{"g":"Steels","lv":"grade","dlo":0.356,"dhi":0.383,"slo":1.28,"shi":1.51},
{"g":"Steels","lv":"grade","dlo":0.383,"dhi":0.413,"slo":37.8,"shi":44.8},
{"g":"Steels","lv":"grade","dlo":0.383,"dhi":0.413,"slo":9.75,"shi":11.6},
{"g":"Steels","lv":"grade","dlo":0.383,"dhi":0.413,"slo":2.52,"shi":2.98},
{"g":"Steels","lv":"grade","dlo":0.413,"dhi":0.445,"slo":146,"shi":173},
{"g":"Steels","lv":"grade","dlo":0.413,"dhi":0.445,"slo":13.7,"shi":16.2},
{"g":"Steels","lv":"grade","dlo":0.413,"dhi":0.445,"slo":6.95,"shi":8.23},
{"g":"Steels","lv":"grade","dlo":0.445,"dhi":0.48,"slo":53,"shi":62.8},
{"g":"Steels","lv":"grade","dlo":0.445,"dhi":0.48,"slo":26.9,"shi":31.9},
{"g":"Steels","lv":"grade","dlo":0.445,"dhi":0.48,"slo":3.53,"shi":4.18},
{"g":"Steels","lv":"grade","dlo":0.48,"dhi":0.517,"slo":205,"shi":243},
{"g":"Steels","lv":"grade","dlo":0.48,"dhi":0.517,"slo":9.75,"shi":11.6},
{"g":"Steels","lv":"grade","dlo":0.517,"dhi":0.558,"slo":104,"shi":124},
{"g":"Steels","lv":"grade","dlo":0.517,"dhi":0.558,"slo":19.2,"shi":22.7},
{"g":"Steels","lv":"grade","dlo":0.517,"dhi":0.558,"slo":6.95,"shi":8.23},
{"g":"Steels","lv":"grade","dlo":0.558,"dhi":0.601,"slo":53,"shi":62.8},
{"g":"Steels","lv":"grade","dlo":0.558,"dhi":0.601,"slo":26.9,"shi":31.9},
{"g":"Steels","lv":"grade","dlo":0.558,"dhi":0.601,"slo":4.95,"shi":5.87},
{"g":"Steels","lv":"grade","dlo":0.601,"dhi":0.648,"slo":205,"shi":243},
{"g":"Steels","lv":"grade","dlo":0.601,"dhi":0.648,"slo":13.7,"shi":16.2},
{"g":"Steels","lv":"grade","dlo":0.648,"dhi":0.699,"slo":104,"shi":124},
{"g":"Steels","lv":"grade","dlo":0.648,"dhi":0.699,"slo":9.75,"shi":11.6},
{"g":"Steels","lv":"grade","dlo":0.699,"dhi":0.753,"slo":53,"shi":62.8},
{"g":"Steels","lv":"grade","dlo":0.699,"dhi":0.753,"slo":205,"shi":243},
{"g":"Steels","lv":"grade","dlo":0.753,"dhi":0.812,"slo":19.2,"shi":22.7},
{"g":"Steels","lv":"grade","dlo":0.753,"dhi":0.812,"slo":146,"shi":173},
{"g":"Steels dark","lv":"class","dlo":0.351,"dhi":0.567,"slo":188,"shi":596},
{"g":"Steels dark","lv":"class","dlo":0.423,"dhi":0.48,"slo":205,"shi":504},
{"g":"Steels dark","lv":"class","dlo":0.338,"dhi":0.404,"slo":10.3,"shi":33.6},
{"g":"Steels dark","lv":"grade","dlo":0.429,"dhi":0.462,"slo":330,"shi":404},
{"g":"Steels dark","lv":"grade","dlo":0.473,"dhi":0.51,"slo":303,"shi":371},
{"g":"Steels dark","lv":"grade","dlo":0.438,"dhi":0.473,"slo":232,"shi":288},
{"g":"Steels dark","lv":"grade","dlo":0.487,"dhi":0.525,"slo":216,"shi":265},
{"g":"Steels dark","lv":"grade","dlo":0.398,"dhi":0.429,"slo":256,"shi":314},
{"g":"Steels brown","lv":"grade","dlo":0.273,"dhi":0.295,"slo":341,"shi":440},
{"g":"Steels brown","lv":"grade","dlo":0.295,"dhi":0.318,"slo":341,"shi":440},
{"g":"Steels brown","lv":"grade","dlo":0.273,"dhi":0.295,"slo":265,"shi":341},
{"g":"Steels brown","lv":"grade","dlo":0.295,"dhi":0.318,"slo":265,"shi":341},
{"g":"Steels brown","lv":"grade","dlo":0.273,"dhi":0.295,"slo":205,"shi":265},
{"g":"Steels brown","lv":"grade","dlo":0.295,"dhi":0.318,"slo":205,"shi":265},
{"g":"Steels brown","lv":"grade","dlo":0.273,"dhi":0.295,"slo":159,"shi":205},
{"g":"Steels brown","lv":"grade","dlo":0.273,"dhi":0.295,"slo":124,"shi":159},
{"g":"Steels brown","lv":"grade","dlo":0.49,"dhi":0.588,"slo":109,"shi":195},
{"g":"Steels brown","lv":"grade","dlo":0.318,"dhi":0.335,"slo":53,"shi":146},
{"g":"Steels black","lv":"grade","dlo":0.689,"dhi":0.715,"slo":425,"shi":567},
{"g":"Glass","lv":"grade","dlo":0.1153,"dhi":0.1243,"slo":44.8,"shi":124},
{"g":"Glass","lv":"grade","dlo":0.129,"dhi":0.139,"slo":26.9,"shi":104},
{"g":"Glass","lv":"grade","dlo":0.1444,"dhi":0.1557,"slo":62.8,"shi":173},
{"g":"Glass","lv":"grade","dlo":0.1617,"dhi":0.1743,"slo":19.2,"shi":44.8},
{"g":"Glass","lv":"grade","dlo":0.1809,"dhi":0.195,"slo":26.9,"shi":104},
{"g":"Glass","lv":"grade","dlo":0.2025,"dhi":0.2185,"slo":22.7,"shi":62.8},
{"g":"Glass","lv":"grade","dlo":0.227,"dhi":0.244,"slo":74.3,"shi":173},
{"g":"Glass","lv":"grade","dlo":0.253,"dhi":0.273,"slo":19.2,"shi":53},
{"g":"Glass","lv":"grade","dlo":0.1153,"dhi":0.139,"slo":29.3,"shi":37.8},
{"g":"Glass","lv":"grade","dlo":0.188,"dhi":0.227,"slo":23.9,"shi":29.3},
{"g":"Glass","lv":"grade","dlo":0.134,"dhi":0.15,"slo":57.7,"shi":74.3},
{"g":"Glass","lv":"grade","dlo":0.2185,"dhi":0.239,"slo":100.5,"shi":124},
{"g":"Glass","lv":"grade","dlo":0.1243,"dhi":0.134,"slo":44.8,"shi":53},
{"g":"Glass","lv":"grade","dlo":0.1444,"dhi":0.1557,"slo":31.9,"shi":37.8},
{"g":"Glass","lv":"grade","dlo":0.195,"dhi":0.21,"slo":88.1,"shi":104},
{"g":"Glass","lv":"grade","dlo":0.227,"dhi":0.244,"slo":31.9,"shi":37.8},
{"g":"Glass tan","lv":"class","dlo":0.1243,"dhi":0.1617,"slo":44.8,"shi":124},
{"g":"Glass tan","lv":"grade","dlo":0.15,"dhi":0.1809,"slo":19.2,"shi":53},
{"g":"Glass tan","lv":"grade","dlo":0.1243,"dhi":0.134,"slo":88.1,"shi":104},
{"g":"Glass tan","lv":"grade","dlo":0.1444,"dhi":0.1557,"slo":44.8,"shi":53},
{"g":"Glass tan","lv":"grade","dlo":0.1678,"dhi":0.1809,"slo":62.8,"shi":74.3},
{"g":"Glass tan","lv":"grade","dlo":0.195,"dhi":0.21,"slo":31.9,"shi":37.8},
{"g":"Glass tan","lv":"grade","dlo":0.134,"dhi":0.1444,"slo":22.7,"shi":26.9},
{"g":"Glass tan","lv":"grade","dlo":0.227,"dhi":0.244,"slo":44.8,"shi":53},
{"g":"Glass tan","lv":"grade","dlo":0.1557,"dhi":0.1678,"slo":124,"shi":146},
{"g":"Glass tan","lv":"grade","dlo":0.1809,"dhi":0.195,"slo":88.1,"shi":104},
{"g":"Glass tan","lv":"grade","dlo":0.21,"dhi":0.227,"slo":22.7,"shi":26.9},
{"g":"Glass tan","lv":"grade","dlo":0.1153,"dhi":0.1243,"slo":62.8,"shi":74.3},
{"g":"Glass olive","lv":"grade","dlo":0.2573,"dhi":0.29,"slo":22.7,"shi":146}
],
"envelopes": [
{"family":"Elastomers","density":0.00219,"strength":0.0995},
{"family":"Ceramics","density":0.013,"strength":0.248},
{"family":"Wood","density":0.0149,"strength":7.56},
{"family":"Polymers","density":0.0746,"strength":4.72},
{"family":"Concretes","density":0.0657,"strength":0.142},
{"family":"Steels","density":0.386,"strength":17.1},
{"family":"Glass","density":0.1755,"strength":59.7}
],
"labels": [
{"family":"Elastomers","density":0.000805,"strength":0.0313},
{"family":"Ceramics","density":0.00612,"strength":0.0539},
{"family":"Wood","density":0.00612,"strength":6.5},
{"family":"Polymers","density":0.0677,"strength":4.47},
{"family":"Glass","density":0.164,"strength":76.9},
{"family":"Steels","density":0.309,"strength":4.47},
{"family":"Concretes","density":0.0644,"strength":0.0649}
]
},
"layer": [
{
  "data": {"name": "records"},
  "mark": {"type": "rect", "filled": false, "cornerRadius": 1000, "opacity": 1},
  "encoding": {
    "x": {"field": "dlo", "type": "quantitative",
          "scale": {"type": "log", "domain": [0.00031, 0.859], "nice": false, "zero": false},
          "axis": {"title": "Density (lb/in^3)",
                   "values": [0.0004,0.0005,0.0006,0.0007,0.0008,0.0009,0.001,0.002,0.003,0.004,0.005,0.006,0.007,0.008,0.009,0.01,0.02,0.03,0.04,0.05,0.06,0.07,0.08,0.09,0.1,0.2,0.3,0.4,0.5,0.6,0.7,0.8],
                   "labelExpr": "datum.value == 0.001 ? '1e-003' : datum.value == 0.01 ? '0.01' : datum.value == 0.1 ? '0.1' : ''",
                   "tickSize": {"condition": {"test": "abs(log(datum.value)/LN10 - round(log(datum.value)/LN10)) < 0.001", "value": 10}, "value": 6},
                   "gridOpacity": {"condition": {"test": "abs(log(datum.value)/LN10 - round(log(datum.value)/LN10)) < 0.001", "value": 1}, "value": 0},
                   "labelPadding": 2, "titlePadding": 3}},
    "x2": {"field": "dhi"},
    "y": {"field": "slo", "type": "quantitative",
          "scale": {"type": "log", "domain": [0.0066, 1175], "nice": false, "zero": false},
          "axis": {"title": "Tensile Strength (ksi)",
                   "values": [0.007,0.008,0.009,0.01,0.02,0.03,0.04,0.05,0.06,0.07,0.08,0.09,0.1,0.2,0.3,0.4,0.5,0.6,0.7,0.8,0.9,1,2,3,4,5,6,7,8,9,10,20,30,40,50,60,70,80,90,100,200,300,400,500,600,700,800,900,1000],
                   "labelExpr": "datum.value == 0.01 ? '0.01' : datum.value == 0.1 ? '0.1' : datum.value == 1 ? '1' : datum.value == 10 ? '10' : datum.value == 100 ? '100' : datum.value == 1000 ? '1000' : ''",
                   "tickSize": {"condition": {"test": "abs(log(datum.value)/LN10 - round(log(datum.value)/LN10)) < 0.001", "value": 10}, "value": 6},
                   "gridOpacity": {"condition": {"test": "abs(log(datum.value)/LN10 - round(log(datum.value)/LN10)) < 0.001", "value": 1}, "value": 0},
                   "labelPadding": 5, "titleX": -46, "titleY": 344}},
    "y2": {"field": "shi"},
    "color": {"field": "g", "type": "nominal", "legend": null,
              "scale": {"domain": ["Elastomers","Ceramics","Ceramics cyan","Ceramics dark","Ceramics blue","Ceramics grey","Ceramics brown","Wood","Polymers","Polymers magenta","Polymers maroon","Polymers violet","Polymers blue","Polymers crimson","Concretes","Concretes grey","Concretes brown","Steels","Steels dark","Steels brown","Steels black","Glass","Glass tan","Glass olive"],
                        "range": ["#2cf000","#0ee04c","#00ecec","#139a52","#045f9c","#2f6f6f","#a0705a","#1c8a1c","#8a3cb0","#ff1ce6","#7a0000","#80008a","#7a90c8","#e0206a","#a88e00","#7a7a55","#7a5040","#ff2000","#b01800","#7a5a48","#1a1a1a","#ff9a00","#c8803c","#9a9a30"]}},
    "strokeWidth": {"field": "lv", "type": "ordinal", "legend": null,
                    "scale": {"domain": ["class", "grade"], "range": [2.8, 1.5]}}
  }
},
{
  "data": {"name": "envelopes"},
  "transform": [{"filter": "datum.family == 'Elastomers'"}],
  "mark": {"type": "point", "shape": "M233,0C233,49.7,128.7,90,0,90C-128.7,90,-233,49.7,-233,0C-233,-49.7,-128.7,-90,0,-90C128.7,-90,233,-49.7,233,0Z",
           "size": 4, "angle": 331.7, "filled": true, "fill": "#61ff21", "fillOpacity": 0.5, "stroke": "#44e414", "strokeWidth": 1.5, "strokeOpacity": 1, "opacity": 1},
  "encoding": {
    "x": {"field": "density", "type": "quantitative", "scale": {"type": "log", "domain": [0.00031, 0.859], "nice": false, "zero": false}},
    "y": {"field": "strength", "type": "quantitative", "scale": {"type": "log", "domain": [0.0066, 1175], "nice": false, "zero": false}}
  }
},
{
  "data": {"name": "envelopes"},
  "transform": [{"filter": "datum.family == 'Ceramics'"}],
  "mark": {"type": "point", "shape": "M300,0C300,77.3,165.7,140,0,140C-165.7,140,-300,77.3,-300,0C-300,-77.3,-165.7,-140,0,-140C165.7,-140,300,-77.3,300,0Z",
           "size": 4, "angle": 324, "filled": true, "fill": "#01c599", "fillOpacity": 0.5, "stroke": "#10b890", "strokeWidth": 1.5, "strokeOpacity": 1, "opacity": 1},
  "encoding": {
    "x": {"field": "density", "type": "quantitative", "scale": {"type": "log", "domain": [0.00031, 0.859], "nice": false, "zero": false}},
    "y": {"field": "strength", "type": "quantitative", "scale": {"type": "log", "domain": [0.0066, 1175], "nice": false, "zero": false}}
  }
},
{
  "data": {"name": "envelopes"},
  "transform": [{"filter": "datum.family == 'Wood'"}],
  "mark": {"type": "point", "shape": "M239,0C239,43.1,132,78,0,78C-132,78,-239,43.1,-239,0C-239,-43.1,-132,-78,0,-78C132,-78,239,-43.1,239,0Z",
           "size": 4, "angle": 339.2, "filled": true, "fill": "#37992d", "fillOpacity": 0.5, "stroke": "#3a8a3a", "strokeWidth": 1.5, "strokeOpacity": 1, "opacity": 1},
  "encoding": {
    "x": {"field": "density", "type": "quantitative", "scale": {"type": "log", "domain": [0.00031, 0.859], "nice": false, "zero": false}},
    "y": {"field": "strength", "type": "quantitative", "scale": {"type": "log", "domain": [0.0066, 1175], "nice": false, "zero": false}}
  }
},
{
  "data": {"name": "envelopes"},
  "transform": [{"filter": "datum.family == 'Polymers'"}],
  "mark": {"type": "point", "shape": "M235,0C235,66.3,129.8,120,0,120C-129.8,120,-235,66.3,-235,0C-235,-66.3,-129.8,-120,0,-120C129.8,-120,235,-66.3,235,0Z",
           "size": 4, "angle": 296, "filled": true, "fill": "#ff239b", "fillOpacity": 0.5, "stroke": "#ff40a0", "strokeWidth": 1.5, "strokeOpacity": 1, "opacity": 1},
  "encoding": {
    "x": {"field": "density", "type": "quantitative", "scale": {"type": "log", "domain": [0.00031, 0.859], "nice": false, "zero": false}},
    "y": {"field": "strength", "type": "quantitative", "scale": {"type": "log", "domain": [0.0066, 1175], "nice": false, "zero": false}}
  }
},
{
  "data": {"name": "envelopes"},
  "transform": [{"filter": "datum.family == 'Concretes'"}],
  "mark": {"type": "point", "shape": "M163,0C163,68.5,90,124,0,124C-90,124,-163,68.5,-163,0C-163,-68.5,-90,-124,0,-124C90,-124,163,-68.5,163,0Z",
           "size": 4, "angle": 326.2, "filled": true, "fill": "#c59900", "fillOpacity": 0.5, "stroke": "#6a9a10", "strokeWidth": 1.5, "strokeOpacity": 1, "opacity": 1},
  "encoding": {
    "x": {"field": "density", "type": "quantitative", "scale": {"type": "log", "domain": [0.00031, 0.859], "nice": false, "zero": false}},
    "y": {"field": "strength", "type": "quantitative", "scale": {"type": "log", "domain": [0.0066, 1175], "nice": false, "zero": false}}
  }
},
{
  "data": {"name": "envelopes"},
  "transform": [{"filter": "datum.family == 'Steels'"}],
  "mark": {"type": "point", "shape": "M115,0C115,133.1,63.5,241,0,241C-63.5,241,-115,133.1,-115,0C-115,-133.1,-63.5,-241,0,-241C63.5,-241,115,-133.1,115,0Z",
           "size": 4, "angle": 0, "filled": true, "fill": "#ff3100", "fillOpacity": 0.5, "stroke": "#ff3000", "strokeWidth": 1.5, "strokeOpacity": 1, "opacity": 1},
  "encoding": {
    "x": {"field": "density", "type": "quantitative", "scale": {"type": "log", "domain": [0.00031, 0.859], "nice": false, "zero": false}},
    "y": {"field": "strength", "type": "quantitative", "scale": {"type": "log", "domain": [0.0066, 1175], "nice": false, "zero": false}}
  }
},
{
  "data": {"name": "envelopes"},
  "transform": [{"filter": "datum.family == 'Glass'"}],
  "mark": {"type": "point", "shape": "M72,0C72,39.8,39.8,72,0,72C-39.8,72,-72,39.8,-72,0C-72,-39.8,-39.8,-72,0,-72C39.8,-72,72,-39.8,72,0Z",
           "size": 4, "angle": 0, "filled": true, "fill": "#ffd000", "fillOpacity": 0.6, "stroke": "#ff4a00", "strokeWidth": 1.5, "strokeOpacity": 1, "opacity": 1},
  "encoding": {
    "x": {"field": "density", "type": "quantitative", "scale": {"type": "log", "domain": [0.00031, 0.859], "nice": false, "zero": false}},
    "y": {"field": "strength", "type": "quantitative", "scale": {"type": "log", "domain": [0.0066, 1175], "nice": false, "zero": false}}
  }
},
{
  "data": {"name": "labels"},
  "mark": {"type": "text", "font": "DejaVu Sans", "fontSize": 25, "color": "#222", "align": "center", "baseline": "middle"},
  "encoding": {
    "x": {"field": "density", "type": "quantitative", "scale": {"type": "log", "domain": [0.00031, 0.859], "nice": false, "zero": false}},
    "y": {"field": "strength", "type": "quantitative", "scale": {"type": "log", "domain": [0.0066, 1175], "nice": false, "zero": false}},
    "text": {"field": "family", "type": "nominal"}
  }
}
]
}
